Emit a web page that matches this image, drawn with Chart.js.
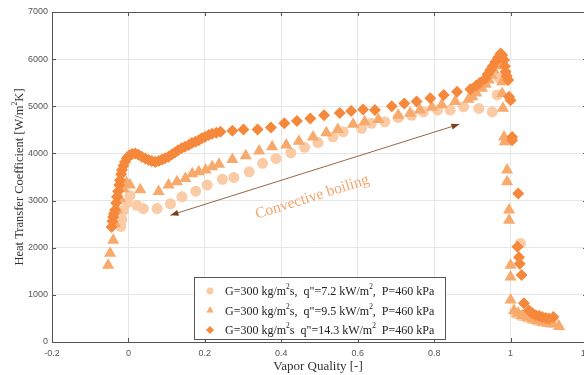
<!DOCTYPE html>
<html>
<head>
<meta charset="utf-8">
<title>Heat transfer coefficient vs vapor quality</title>
<script src="https://cdn.jsdelivr.net/npm/chart.js@4"></script>
<style>
  html, body { margin: 0; background: #fff; overflow: hidden; }
  #wrap { width: 584px; height: 375px; overflow: hidden; }
  canvas { display: block; }
</style>
</head>
<body>
<div id="wrap"><canvas id="htc" width="590" height="375"></canvas></div>
<script>
// q" = 7.2 kW/m2 (circles)
const xLow = [-0.02, -0.017, -0.013, -0.004, 0.004, 0.022, 0.039, 0.075, 0.11, 0.14, 0.176, 0.206, 0.246,
  0.276, 0.316, 0.351, 0.386, 0.425, 0.461, 0.496, 0.535, 0.562, 0.61, 0.636, 0.671, 0.706, 0.741, 0.772,
  0.809, 0.842, 0.877, 0.917, 0.952, 0.965, 0.97, 0.978, 1.026, 1.013, 1.026, 1.039, 1.052, 1.066, 1.079,
  1.092, 1.104, 1.114];
const hLow = [2450, 2600, 2790, 2950, 3110, 2900, 2830, 2830, 2930, 3080, 3200, 3330, 3450,
  3490, 3610, 3790, 3890, 4010, 4130, 4230, 4350, 4460, 4530, 4640, 4670, 4760, 4810, 4880,
  4920, 4920, 4990, 4955, 4880, 5240, 5600, 5900, 2090, 600, 560, 530, 495, 460, 440,
  425, 420, 425];

// q" = 9.5 kW/m2 (triangles)
const xMid = [-0.053, -0.048, -0.04, -0.035, -0.03, -0.022, -0.013, -0.005, 0.004, 0.031, 0.079, 0.105,
  0.127, 0.149, 0.167, 0.184, 0.202, 0.219, 0.237, 0.272, 0.307, 0.342, 0.376, 0.413, 0.446, 0.483, 0.518,
  0.548, 0.588, 0.618, 0.654, 0.706, 0.737, 0.763, 0.794, 0.82, 0.855, 0.89, 0.9, 0.91, 0.925, 0.935,
  0.943, 0.95, 0.956, 0.962, 0.969, 0.975, 0.978, 0.978, 0.978, 0.98, 0.983, 0.985, 0.991, 0.991, 0.996,
  0.996, 1.0, 1.0, 1.0, 1.009, 1.02, 1.031, 1.044, 1.057, 1.07, 1.083, 1.097, 1.11, 1.127];
const hMid = [1630, 1880, 2160, 2510, 2800, 3050, 3250, 3380, 3330, 3230, 3190, 3330,
  3400, 3470, 3570, 3610, 3650, 3720, 3770, 3870, 3950, 4050, 4140, 4180, 4260, 4350, 4440,
  4510, 4620, 4670, 4720, 4810, 4850, 4920, 4980, 5030, 5100, 5150, 5200, 5280, 5380, 5470,
  5560, 5660, 5770, 5860, 5940, 6000, 6020, 5520, 5270, 4960, 4350, 4250, 3650, 3400, 2800,
  2580, 1630, 1380, 890, 670, 610, 560, 525, 490, 455, 425, 400, 380, 330];

// q" = 14.3 kW/m2 (diamonds)
const xHigh = [-0.044, -0.042, -0.04, -0.038, -0.035, -0.032, -0.03, -0.027, -0.024, -0.022, -0.019, -0.017,
  -0.013, -0.009, -0.004, 0.0, 0.004, 0.01, 0.018, 0.026, 0.035, 0.044, 0.053, 0.061, 0.07, 0.079, 0.088,
  0.096, 0.105, 0.114, 0.122, 0.13, 0.139, 0.148, 0.158, 0.166, 0.175, 0.184, 0.192, 0.2, 0.21, 0.219,
  0.23, 0.241, 0.272, 0.301, 0.338, 0.373, 0.408, 0.441, 0.476, 0.512, 0.553, 0.583, 0.614, 0.645, 0.689,
  0.722, 0.754, 0.79, 0.825, 0.86, 0.895, 0.91, 0.92, 0.934, 0.94, 0.947, 0.953, 0.96, 0.967, 0.974,
  0.978, 0.983, 0.985, 0.987, 0.99, 0.994, 0.996, 1.0, 1.004, 1.004, 1.02, 1.018, 1.022, 1.024, 1.029,
  1.035, 1.048, 1.057, 1.066, 1.075, 1.083, 1.092, 1.1, 1.112];
const hHigh = [2440, 2560, 2650, 2720, 2800, 2950, 3080, 3200, 3330, 3430, 3560, 3650,
  3740, 3820, 3900, 3940, 3960, 3990, 4000, 3970, 3930, 3890, 3860, 3840, 3820, 3840, 3870,
  3900, 3930, 3980, 4020, 4070, 4110, 4140, 4180, 4220, 4250, 4280, 4320, 4350, 4390, 4420,
  4440, 4460, 4480, 4510, 4510, 4550, 4640, 4690, 4740, 4810, 4860, 4900, 4930, 4920, 5000,
  5060, 5100, 5170, 5240, 5310, 5360, 5440, 5500, 5590, 5680, 5770, 5850, 5940, 6030, 6120,
  6080, 5980, 5850, 5730, 5640, 5560, 5200, 5130, 4350, 4280, 3150, 2020, 1800, 1660, 1420,
  820, 670, 610, 570, 550, 530, 510, 500, 530];

const xTicks = [-0.2, 0, 0.2, 0.4, 0.6, 0.8, 1, 1.2];
const yTicks = [0, 1000, 2000, 3000, 4000, 5000, 6000, 7000];

const colLow = '#fbcba6';
const colMid = '#f8a96c';
const colHigh = '#f6883b';

function pts(xs, ys) {
  return xs.map((x, i) => ({ x: x, y: ys[i] }));
}

// text with superscript parts: [['G=300 kg/m'], ['2', true], ...]
function richWidth(ctx, parts, size) {
  let w = 0;
  parts.forEach(p => {
    ctx.font = (p[1] ? size * 0.62 : size) + 'px "Liberation Serif", serif';
    w += ctx.measureText(p[0]).width;
  });
  return w;
}
function drawRich(ctx, parts, x, y, size) {
  parts.forEach(p => {
    ctx.font = (p[1] ? size * 0.62 : size) + 'px "Liberation Serif", serif';
    ctx.fillText(p[0], x, p[1] ? y - size * 0.38 : y);
    x += ctx.measureText(p[0]).width;
  });
}

const legendRows = [
  { style: 'circle', color: colLow, r: 3.5,
    parts: [['G=300 kg/m'], ['2', true], ['s,  q"=7.2 kW/m'], ['2', true], [',  P=460 kPa']] },
  { style: 'triangle', color: colMid, r: 4.2,
    parts: [['G=300 kg/m'], ['2', true], ['s,  q"=9.5 kW/m'], ['2', true], [',  P=460 kPa']] },
  { style: 'rectRot', color: colHigh, r: 4,
    parts: [['G=300 kg/m'], ['2', true], ['s  q"=14.3 kW/m'], ['2', true], ['  P=460 kPa']] }
];

// frame, inward ticks, titles, annotation and legend
const decorations = {
  id: 'decorations',
  afterDatasetsDraw(chart) {
    const ctx = chart.ctx;
    const a = chart.chartArea;
    const sx = chart.scales.x, sy = chart.scales.y;
    ctx.save();

    // box + inward ticks
    ctx.strokeStyle = '#555';
    ctx.lineWidth = 1;
    ctx.strokeRect(Math.round(a.left) + 0.5, Math.round(a.top) + 0.5,
      Math.round(a.right - a.left) - 1, Math.round(a.bottom - a.top));
    ctx.beginPath();
    xTicks.forEach(v => {
      const px = Math.round(sx.getPixelForValue(v)) + 0.5;
      ctx.moveTo(px, a.top); ctx.lineTo(px, a.top + 4);
      ctx.moveTo(px, a.bottom); ctx.lineTo(px, a.bottom - 4);
    });
    yTicks.forEach(v => {
      const py = Math.round(sy.getPixelForValue(v)) + 0.5;
      ctx.moveTo(a.left, py); ctx.lineTo(a.left + 4, py);
      ctx.moveTo(a.right, py); ctx.lineTo(a.right - 4, py);
    });
    ctx.stroke();

    // axis titles
    ctx.fillStyle = '#333';
    ctx.textAlign = 'center';
    ctx.textBaseline = 'middle';
    ctx.font = '13px "Liberation Serif", serif';
    ctx.fillText('Vapor Quality [-]', 318, 367);

    const yParts = [['Heat Transfer Coefficient [W/m'], ['2', true], ['K]']];
    ctx.save();
    ctx.translate(20, (a.top + a.bottom) / 2);
    ctx.rotate(-Math.PI / 2);
    ctx.textAlign = 'left';
    const yw = richWidth(ctx, yParts, 12.5);
    drawRich(ctx, yParts, -yw / 2, 0, 12.5);
    ctx.restore();

    // double-headed arrow
    const x1 = sx.getPixelForValue(0.11), y1 = sy.getPixelForValue(2690);
    const x2 = sx.getPixelForValue(0.866), y2 = sy.getPixelForValue(4620);
    const ang = Math.atan2(y2 - y1, x2 - x1);
    ctx.strokeStyle = '#9a6446';
    ctx.fillStyle = '#7a3f1c';
    ctx.lineWidth = 1;
    ctx.beginPath();
    ctx.moveTo(x1, y1); ctx.lineTo(x2, y2);
    ctx.stroke();
    [[x1, y1, ang + Math.PI], [x2, y2, ang]].forEach(h => {
      ctx.save();
      ctx.translate(h[0], h[1]);
      ctx.rotate(h[2]);
      ctx.beginPath();
      ctx.moveTo(0, 0); ctx.lineTo(-8, -3); ctx.lineTo(-8, 3);
      ctx.closePath();
      ctx.fill();
      ctx.restore();
    });

    // label along the arrow
    ctx.save();
    ctx.translate(sx.getPixelForValue(0.481), sy.getPixelForValue(3072));
    ctx.rotate(ang);
    ctx.fillStyle = '#f4a46c';
    ctx.font = '15.5px "Liberation Serif", serif';
    ctx.textAlign = 'center';
    ctx.textBaseline = 'middle';
    ctx.fillText('Convective boiling', 0, 0);
    ctx.restore();

    // legend box
    const lx = 194, ly = 277, lw = 251, lh = 62;
    ctx.fillStyle = '#fff';
    ctx.fillRect(lx, ly, lw, lh);
    ctx.strokeStyle = '#555';
    ctx.strokeRect(lx + 0.5, ly + 0.5, lw, lh);
    ctx.textAlign = 'left';
    ctx.textBaseline = 'middle';
    legendRows.forEach((row, i) => {
      const cy = 291 + i * 19.5;
      ctx.fillStyle = row.color;
      ctx.strokeStyle = row.color;
      Chart.helpers.drawPoint(ctx, { pointStyle: row.style, radius: row.r, borderWidth: 0 }, 210, cy);
      ctx.fillStyle = '#222';
      drawRich(ctx, row.parts, 225, cy + 1, 12);
    });

    ctx.restore();
  }
};

const markerBase = { showLine: false, pointBorderWidth: 0, pointHoverRadius: 0 };

new Chart(document.getElementById('htc').getContext('2d'), {
  type: 'scatter',
  data: {
    datasets: [
      Object.assign({ label: 'q"=7.2', data: pts(xLow, hLow), pointStyle: 'circle', pointRadius: 5.5,
        backgroundColor: colLow, borderColor: colLow, order: 3 }, markerBase),
      Object.assign({ label: 'q"=9.5', data: pts(xMid, hMid), pointStyle: 'triangle', pointRadius: 7,
        backgroundColor: colMid, borderColor: colMid, order: 2 }, markerBase),
      Object.assign({ label: 'q"=14.3', data: pts(xHigh, hHigh), pointStyle: 'rectRot', pointRadius: 6,
        backgroundColor: colHigh, borderColor: colHigh, order: 1 }, markerBase)
    ]
  },
  options: {
    responsive: false,
    animation: false,
    layout: { autoPadding: false, padding: { left: 0, right: 3, top: 12, bottom: 0 } },
    plugins: { legend: { display: false }, tooltip: { enabled: false } },
    scales: {
      x: {
        type: 'linear', min: -0.2, max: 1.2,
        afterBuildTicks: s => { s.ticks = xTicks.map(v => ({ value: v })); },
        afterFit: s => { s.height = 33; s.paddingRight = 0; },
        grid: { color: '#e6e6e6', drawTicks: false },
        border: { display: false },
        ticks: {
          padding: 6, color: '#555', maxRotation: 0,
          font: { family: '"Liberation Sans", Arial, sans-serif', size: 9 },
          callback: v => String(Math.round(v * 10) / 10)
        }
      },
      y: {
        min: 0, max: 7000,
        afterBuildTicks: s => { s.ticks = yTicks.map(v => ({ value: v })); },
        afterFit: s => { s.width = 52; },
        grid: { color: '#e6e6e6', drawTicks: false },
        border: { display: false },
        ticks: {
          padding: 4, color: '#555',
          font: { family: '"Liberation Sans", Arial, sans-serif', size: 9 },
          callback: v => String(v)
        }
      }
    }
  },
  plugins: [decorations]
});
</script>
</body>
</html>
